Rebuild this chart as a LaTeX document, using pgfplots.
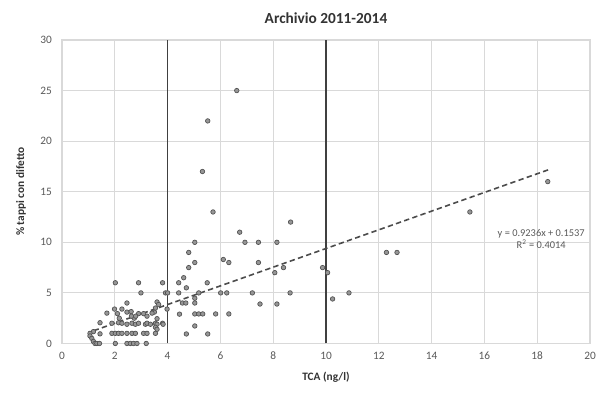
\documentclass[border=0pt]{standalone}
\usepackage{pgfplots}
\pgfplotsset{compat=1.18}
\usepackage{fontspec}
\setmainfont{Carlito}
\definecolor{gridc}{RGB}{217,217,217}
\definecolor{txtc}{RGB}{89,89,89}
\definecolor{markf}{RGB}{150,150,150}
\definecolor{markd}{RGB}{80,80,80}
\begin{document}
\begin{tikzpicture}
\begin{axis}[
  scale only axis,
  width=396pt, height=227.6pt,
  xmin=0, xmax=20, ymin=0, ymax=30,
  xtick={0,2,...,20}, ytick={0,5,...,30},
  grid=major,
  major grid style={gridc, line width=0.8pt},
  axis line style={gridc, line width=0.8pt},
  major tick length=0pt,
  tick label style={font=\fontsize{8.5}{10}\selectfont, text=txtc},
  /pgf/number format/assume math mode=true,
  xticklabel style={yshift=-3pt},
  yticklabel style={xshift=-4pt},
  title={\bfseries Archivio 2011-2014},
  title style={font=\fontsize{11.5}{13}\selectfont, text=black!80, yshift=3pt},
  xlabel={\bfseries TCA (ng/l)},
  ylabel={\bfseries \% tappi con difetto},
  label style={font=\fontsize{8.5}{10}\selectfont, text=black!80},
  xlabel style={yshift=-2pt},
  ylabel style={yshift=4pt},
  clip=false,
]
% vertical reference lines
\addplot[black!75, line width=1.2pt] coordinates {(4,0) (4,30)};
\addplot[black!75, line width=1.2pt] coordinates {(10,0) (10,30)};
% trend line
\addplot[black!70, line width=1.2pt, dash pattern=on 4pt off 2.5pt] coordinates {(1.2,1.262) (18.5,17.24)};
% data
\addplot[only marks, mark=*, mark size=1.7pt, mark options={fill=markf, draw=markd, line width=0.5pt}] coordinates {
(6.62,25.0) (5.52,22.0) (5.32,17.0) (5.72,13.0) (8.66,12.0) (6.73,11.0)
(18.4,16.0) (15.45,13.0) (12.29,9.0) (12.69,9.0) (9.87,7.5) (10.06,7.0) (10.25,4.4) (10.87,5.0)
(5.03,10.0) (6.93,10.0) (7.44,10.0) (8.14,10.0)
(4.80,9.0) (5.03,8.0) (6.11,8.3) (6.32,8.0) (7.44,8.0)
(4.80,7.5) (8.39,7.5) (8.06,7.0)
(4.61,6.5) (4.42,6.0) (5.5,6.0) (3.81,6.0) (2.90,6.0) (2.02,6.0)
(4.71,5.5)
(2.99,5.0) (3.92,5.0) (4.0,5.0) (4.42,5.0) (5.18,5.0) (6.01,5.0) (6.24,5.0) (7.21,5.0) (8.64,5.0)
(5.03,4.47) (5.03,4.0) (4.56,4.0) (4.69,4.0) (7.5,3.9) (8.14,3.9)
(3.6,4.1) (3.66,3.85) (2.46,4.0)
(3.98,3.4) (1.99,3.4) (2.27,3.4) (2.46,3.1) (2.62,3.15) (3.5,3.1) (3.54,3.5)
(1.70,3.0) (2.1,2.95) (2.90,2.95) (3.09,2.95) (3.41,3.0)
(4.45,2.9) (5.03,2.92) (5.18,2.92) (5.33,2.92) (5.82,2.92) (6.32,2.92)
(2.17,2.5) (2.74,2.5) (3.6,2.45) (2.63,2.7) (2.79,2.7) (3.22,2.7)
(1.44,2.05) (1.89,2.0) (2.14,2.05) (2.27,2.0) (2.46,1.9) (2.65,2.0) (2.78,1.9) (2.90,2.0) (3.16,1.9) (3.22,2.0) (3.35,1.9) (3.54,2.0) (3.6,1.9) (3.81,2.0) (3.83,1.9)
(5.03,1.73) (3.54,1.6) (3.6,1.4)
(1.19,1.17) (1.44,0.95) (1.89,1.0) (2.02,1.0) (2.14,1.0) (2.27,1.0) (2.46,1.0) (2.65,1.0) (2.78,1.0) (3.09,1.0) (3.22,1.0) (3.54,1.0) (4.71,0.94) (5.52,0.94)
(1.06,1.0) (1.06,0.74) (1.13,0.5) (1.19,0.2) (1.25,0.0) (1.32,0.0) (1.42,0.0)
(2.02,0.0) (2.46,0.0) (2.59,0.0) (2.71,0.0) (2.84,0.0) (3.19,0.0)
};
\node[font=\fontsize{7.8}{9}\selectfont, text=txtc, align=center] at (axis cs:18.15,10.35) {y = 0.9236x + 0.1537\\R\textsuperscript{2} = 0.4014};
\end{axis}
\pgfresetboundingbox
\path[use as bounding box] ([xshift=-46.5pt,yshift=-39.4pt]current axis.south west) rectangle ([xshift=6pt,yshift=30pt]current axis.north east);
\end{tikzpicture}
\end{document}
